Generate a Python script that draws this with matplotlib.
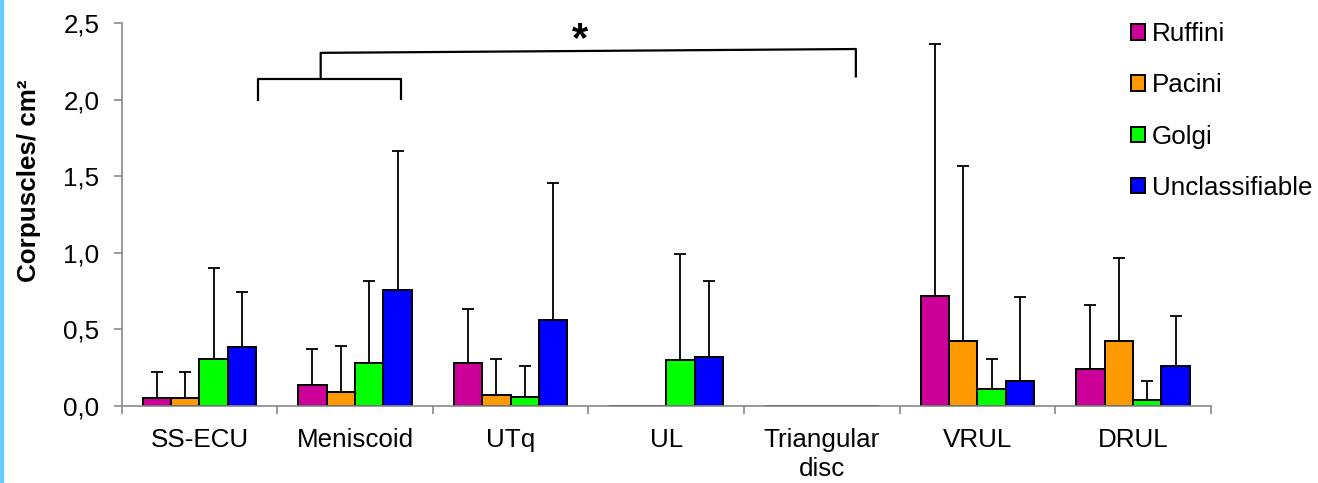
import numpy as np
import matplotlib
matplotlib.use('Agg')
import matplotlib.pyplot as plt
from matplotlib.patches import Rectangle, Patch

plt.rcParams['font.family'] = ['Liberation Sans', 'DejaVu Sans']

# data (mean and upper SD, corpuscles per cm2)
regions = ['SS-ECU', 'Meniscoid', 'UTq', 'UL', 'Triangular\ndisc', 'VRUL', 'DRUL']
series = ['Ruffini', 'Pacini', 'Golgi', 'Unclassifiable']
ruffini = [0.052, 0.133, 0.277, 0.0, 0.0, 0.719, 0.240]
pacini = [0.050, 0.088, 0.068, 0.0, 0.0, 0.425, 0.423]
golgi = [0.305, 0.277, 0.059, 0.299, 0.0, 0.111, 0.035]
unclass = [0.386, 0.756, 0.560, 0.320, 0.0, 0.163, 0.261]
ruffini_sd = [0.170, 0.240, 0.355, 0.0, 0.0, 1.641, 0.418]
pacini_sd = [0.170, 0.302, 0.237, 0.0, 0.0, 1.144, 0.540]
golgi_sd = [0.593, 0.538, 0.202, 0.691, 0.0, 0.194, 0.128]
unclass_sd = [0.359, 0.909, 0.895, 0.495, 0.0, 0.549, 0.327]
yticks = [0.0, 0.5, 1.0, 1.5, 2.0, 2.5]
ytick_labels = ['0,0', '0,5', '1,0', '1,5', '2,0', '2,5']

colors = ['#CC0099', '#FF9900', '#00FF00', '#0000FF']
means = [ruffini, pacini, golgi, unclass]
sds = [ruffini_sd, pacini_sd, golgi_sd, unclass_sd]

W, H = 1318, 483
fig = plt.figure(figsize=(W / 100, H / 100), dpi=100)
ax = fig.add_axes([121.7 / W, 1 - 405.7 / H, (1210.7 - 121.7) / W, (405.7 - 23) / H])

# light blue strip on the left edge
fig.patches.append(Rectangle((0, 0), 3 / W, 1, transform=fig.transFigure,
                             color='#66CCFF', zorder=0))

fs = 18.7
x = np.arange(len(regions))
w = 0.1825
for j, (m, s) in enumerate(zip(means, sds)):
    xs = x + (j - 1.5) * w
    ax.bar(xs, m, w, color=colors[j], edgecolor='black', linewidth=1.4, zorder=2)
    m = np.array(m)
    s = np.array(s)
    keep = s > 0
    ax.errorbar(xs[keep], m[keep], yerr=[np.zeros(keep.sum()), s[keep]], fmt='none',
                ecolor='black', elinewidth=1.3, capsize=4.3, capthick=1.3, zorder=3)

ax.set_xlim(-0.5, len(regions) - 0.5)
ax.set_ylim(0, 2.5)
ax.set_yticks(yticks)
ax.set_yticklabels(ytick_labels, fontsize=fs)
ax.set_xticks(x)
ax.set_xticklabels(regions, fontsize=fs, linespacing=1.25)
ax.set_xticks(np.arange(-0.5, len(regions)), minor=True)
ax.tick_params(axis='x', which='major', length=0, pad=16)
ax.tick_params(axis='x', which='minor', length=5.5, width=1.2, color='#898989')
ax.tick_params(axis='y', length=6, width=1.2, color='#898989', pad=10)
for side in ['top', 'right']:
    ax.spines[side].set_visible(False)
for side in ['left', 'bottom']:
    ax.spines[side].set_color('#898989')
    ax.spines[side].set_linewidth(1.2)

fig.text(29 / W, 1 - 181 / H, 'Corpuscles/ cm²', rotation=90, ha='center', va='center',
         fontsize=fs, fontweight='bold')

# significance bracket
kw = dict(color='black', lw=1.6, clip_on=False, solid_capstyle='butt')
ax.plot([0.378, 0.378, 1.295, 1.295], [1.99, 2.137, 2.137, 2.00], **kw)
ax.plot([0.779, 0.779, 4.219, 4.219], [2.137, 2.305, 2.33, 2.144], **kw)
ax.text(2.445, 2.39, '*', ha='center', va='center', fontsize=30, fontweight='bold')

handles = [Patch(facecolor=c, edgecolor='black', linewidth=1.4) for c in colors]
fig.legend(handles, series, loc='upper left', bbox_to_anchor=(1131 / W, 1 - 22 / H),
           frameon=False, fontsize=fs, handlelength=0.55, handleheight=0.55,
           handletextpad=0.25, labelspacing=1.05, borderpad=0, borderaxespad=0)

fig.savefig('out.png', dpi=100)
